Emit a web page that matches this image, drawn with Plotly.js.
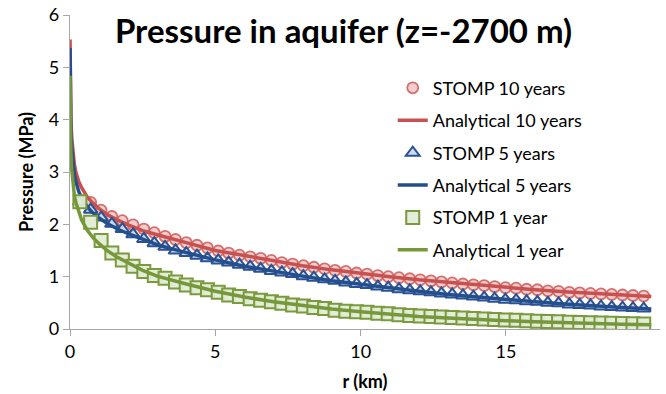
<!DOCTYPE html>
<html>
<head>
<meta charset="utf-8">
<script src="https://cdn.plot.ly/plotly-3.0.1.min.js"></script>
<style>html,body{margin:0;padding:0;background:#fff;}#chart{width:666px;height:394px;}</style>
</head>
<body>
<div id="chart"></div>
<script>
// Analytical solution radii (km)
const rLine = [0.002, 0.01, 0.03, 0.06, 0.1, 0.15, 0.2, 0.3, 0.4, 0.6, 0.8, 1, 1.3, 1.6, 2, 2.5, 3, 3.5, 4, 5, 6, 7, 8, 9, 10, 11, 12, 13, 14, 15, 16, 17, 18, 19, 20];
const analytical10 = [5.53, 4.7, 4.05, 3.65, 3.35, 3.15, 3.0, 2.82, 2.7, 2.52, 2.4, 2.3, 2.18, 2.09, 1.99, 1.88, 1.8, 1.72, 1.65, 1.5, 1.4, 1.3, 1.21, 1.13, 1.06, 1.0, 0.94, 0.89, 0.84, 0.79, 0.75, 0.71, 0.68, 0.65, 0.62];
const analytical5 = [5.37, 4.5, 3.85, 3.45, 3.15, 2.95, 2.82, 2.63, 2.5, 2.33, 2.21, 2.12, 2.01, 1.92, 1.82, 1.71, 1.61, 1.53, 1.46, 1.32, 1.2, 1.1, 1.01, 0.92, 0.85, 0.78, 0.72, 0.66, 0.61, 0.56, 0.52, 0.48, 0.44, 0.41, 0.38];
const analytical1 = [4.84, 4.0, 3.4, 3.05, 2.75, 2.55, 2.42, 2.22, 2.08, 1.88, 1.74, 1.63, 1.49, 1.38, 1.26, 1.12, 1.01, 0.93, 0.86, 0.72, 0.61, 0.52, 0.45, 0.38, 0.33, 0.28, 0.24, 0.21, 0.18, 0.16, 0.14, 0.12, 0.10, 0.09, 0.08];

// STOMP grid radii (km)
const rStomp = [0.34, 0.71, 1.07, 1.44, 1.80, 2.17, 2.54, 2.90, 3.27, 3.63, 4.00, 4.37, 4.73, 5.10, 5.46, 5.83, 6.20, 6.56, 6.93, 7.29, 7.66, 8.03, 8.39, 8.76, 9.12, 9.49, 9.86, 10.22, 10.59, 10.95, 11.32, 11.69, 12.05, 12.42, 12.78, 13.15, 13.52, 13.88, 14.25, 14.61, 14.98, 15.35, 15.71, 16.08, 16.44, 16.81, 17.18, 17.54, 17.91, 18.27, 18.64, 19.01, 19.37, 19.74];
const stomp10 = [2.45, 2.42, 2.27, 2.15, 2.07, 1.99, 1.91, 1.84, 1.77, 1.71, 1.65, 1.60, 1.55, 1.49, 1.45, 1.41, 1.38, 1.35, 1.31, 1.27, 1.24, 1.21, 1.18, 1.15, 1.12, 1.10, 1.07, 1.05, 1.02, 1.00, 0.98, 0.96, 0.94, 0.92, 0.90, 0.88, 0.86, 0.845, 0.83, 0.81, 0.79, 0.78, 0.76, 0.75, 0.73, 0.72, 0.70, 0.69, 0.68, 0.67, 0.66, 0.65, 0.64, 0.63];
const stomp5 = [2.43, 2.28, 2.13, 2.01, 1.91, 1.81, 1.72, 1.64, 1.57, 1.50, 1.45, 1.40, 1.35, 1.31, 1.27, 1.23, 1.19, 1.15, 1.11, 1.08, 1.05, 1.01, 0.98, 0.95, 0.92, 0.89, 0.86, 0.84, 0.81, 0.79, 0.76, 0.74, 0.72, 0.70, 0.68, 0.66, 0.64, 0.62, 0.60, 0.58, 0.56, 0.55, 0.53, 0.52, 0.50, 0.49, 0.47, 0.46, 0.45, 0.43, 0.42, 0.41, 0.40, 0.39];
const stomp1 = [2.43, 2.04, 1.69, 1.45, 1.32, 1.20, 1.10, 1.02, 0.97, 0.90, 0.84, 0.79, 0.75, 0.70, 0.65, 0.62, 0.58, 0.55, 0.52, 0.49, 0.46, 0.44, 0.41, 0.39, 0.36, 0.34, 0.33, 0.32, 0.30, 0.29, 0.27, 0.26, 0.25, 0.24, 0.23, 0.22, 0.21, 0.20, 0.19, 0.18, 0.17, 0.165, 0.16, 0.15, 0.145, 0.14, 0.13, 0.125, 0.12, 0.115, 0.11, 0.105, 0.10, 0.095];

const xTicks = [0, 5, 10, 15];
const yTicks = [0, 1, 2, 3, 4, 5, 6];

const FONT = 'Lato, "Open Sans", sans-serif';

const traces = [
  {x: rStomp, y: stomp10, name: 'STOMP 10 years', mode: 'markers', legendgroup: 'a',
   marker: {symbol: 'circle', size: 11, color: 'rgba(240,200,200,0.9)', line: {color: 'rgba(205,90,88,0.85)', width: 1.8}}},
  {x: rLine, y: analytical10, name: 'Analytical 10 years', mode: 'lines', legendgroup: 'b',
   line: {color: '#C8504F', width: 3.5}},
  {x: rStomp, y: stomp5, name: 'STOMP 5 years', mode: 'markers', legendgroup: 'c',
   marker: {symbol: 'triangle-up', size: 12, color: 'rgba(200,218,240,0.95)', line: {color: '#2A5294', width: 2}}},
  {x: rLine, y: analytical5, name: 'Analytical 5 years', mode: 'lines', legendgroup: 'd',
   line: {color: '#244E8C', width: 3.5}},
  {x: rStomp, y: stomp1, name: 'STOMP 1 year', mode: 'markers', legendgroup: 'e',
   marker: {symbol: 'square', size: 13, color: 'rgba(226,236,214,0.95)', line: {color: '#7A9A3E', width: 2}}},
  {x: rLine, y: analytical1, name: 'Analytical 1 year', mode: 'lines', legendgroup: 'f',
   line: {color: '#76973A', width: 3.5}}
];

const layout = {
  width: 666, height: 394,
  margin: {l: 70, r: 6, t: 15, b: 65},
  paper_bgcolor: '#ffffff', plot_bgcolor: '#ffffff',
  font: {family: FONT, color: '#000'},
  title: {text: '<b>Pressure in aquifer (z=-2700 m)</b>', font: {family: FONT, size: 33, color: '#000'},
          xref: 'paper', x: 0.4636, xanchor: 'center', yref: 'container', y: 0.92, yanchor: 'middle'},
  showlegend: true,
  legend: {x: 0.547, y: 0.826, xanchor: 'left', yanchor: 'top', bgcolor: 'rgba(0,0,0,0)',
           font: {family: FONT, size: 18, color: '#000'}, traceorder: 'grouped', tracegroupgap: 6,
           itemsizing: 'trace'},
  xaxis: {range: [0, 20.3], tickvals: xTicks, ticktext: xTicks.map(String), showgrid: false, zeroline: false,
          showline: true, linecolor: '#A6A6A6', linewidth: 1.3, ticks: 'outside', ticklen: 6, tickcolor: '#A6A6A6',
          tickfont: {family: FONT, size: 18, color: '#000'},
          title: {text: '<b>r (km)</b>', font: {family: FONT, size: 18, color: '#000'}, standoff: 14}},
  yaxis: {range: [0, 6], tickvals: yTicks, ticktext: yTicks.map(String), showgrid: false, zeroline: false,
          showline: true, linecolor: '#A6A6A6', linewidth: 1.3, ticks: 'outside', ticklen: 6, tickcolor: '#A6A6A6',
          tickfont: {family: FONT, size: 18, color: '#000'},
          title: {text: '<b>Pressure (MPa)</b>', font: {family: FONT, size: 18, color: '#000'}, standoff: 10}}
};

Plotly.newPlot('chart', traces, layout, {staticPlot: true, displayModeBar: false});
</script>
</body>
</html>
